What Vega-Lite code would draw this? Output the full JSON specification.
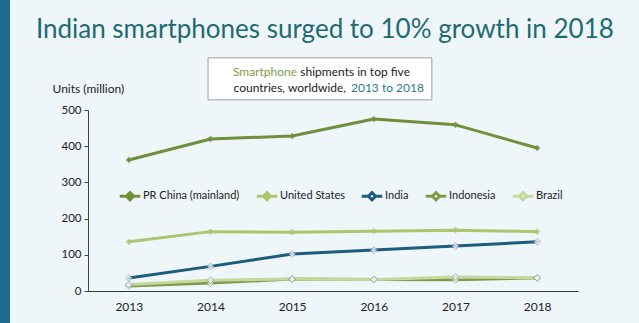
{
  "$schema": "https://vega.github.io/schema/vega-lite/v6.json",
  "width": 490,
  "height": 181,
  "autosize": "none",
  "padding": {"left": 88, "top": 110, "right": 61, "bottom": 32},
  "background": "#eef6f9",
  "config": {
    "view": {"stroke": null},
    "font": "Lato",
    "axisY": {
      "title": "Units (million)",
      "titleAngle": 0,
      "titleAlign": "left",
      "titleBaseline": "middle",
      "titleX": -36,
      "titleY": -22,
      "titleFontSize": 12,
      "titleFontWeight": "normal",
      "titleColor": "#222",
      "tickCount": 10,
      "labelOverlap": false,
      "labelBound": false,
      "labelSeparation": 0,
      "grid": false,
      "labelFontSize": 11.5,
      "labelColor": "#222",
      "tickSize": 4,
      "tickColor": "#444",
      "domainColor": "#444",
      "labelPadding": 3
    }
  },
  "layer": [
    {
      "data": {"name": "shipments", "values": [
        {"year": 2013, "country": "PR China (mainland)", "value": 362},
        {"year": 2014, "country": "PR China (mainland)", "value": 420},
        {"year": 2015, "country": "PR China (mainland)", "value": 428},
        {"year": 2016, "country": "PR China (mainland)", "value": 475},
        {"year": 2017, "country": "PR China (mainland)", "value": 459},
        {"year": 2018, "country": "PR China (mainland)", "value": 395},
        {"year": 2013, "country": "United States", "value": 136},
        {"year": 2014, "country": "United States", "value": 164},
        {"year": 2015, "country": "United States", "value": 162},
        {"year": 2016, "country": "United States", "value": 165},
        {"year": 2017, "country": "United States", "value": 168},
        {"year": 2018, "country": "United States", "value": 164},
        {"year": 2013, "country": "India", "value": 36},
        {"year": 2014, "country": "India", "value": 68},
        {"year": 2015, "country": "India", "value": 102},
        {"year": 2016, "country": "India", "value": 113},
        {"year": 2017, "country": "India", "value": 124},
        {"year": 2018, "country": "India", "value": 136},
        {"year": 2013, "country": "Indonesia", "value": 14},
        {"year": 2014, "country": "Indonesia", "value": 22},
        {"year": 2015, "country": "Indonesia", "value": 33},
        {"year": 2016, "country": "Indonesia", "value": 32},
        {"year": 2017, "country": "Indonesia", "value": 31},
        {"year": 2018, "country": "Indonesia", "value": 36},
        {"year": 2013, "country": "Brazil", "value": 18},
        {"year": 2014, "country": "Brazil", "value": 30},
        {"year": 2015, "country": "Brazil", "value": 33},
        {"year": 2016, "country": "Brazil", "value": 32},
        {"year": 2017, "country": "Brazil", "value": 39},
        {"year": 2018, "country": "Brazil", "value": 36}
      ]},
      "encoding": {
        "x": {
          "field": "year",
          "type": "quantitative",
          "scale": {"domain": [2012.5, 2018.5], "nice": false, "zero": false},
          "axis": {
            "title": null,
            "values": [2013, 2014, 2015, 2016, 2017, 2018],
            "format": "d",
            "ticks": false,
            "grid": false,
            "labelFontSize": 12,
            "labelColor": "#222",
            "labelPadding": 10,
            "domainColor": "#333",
            "domainWidth": 1.2
          }
        },
        "y": {
          "field": "value",
          "type": "quantitative",
          "scale": {"domain": [0, 500], "nice": false},
          "axis": {"title": "Units (million)", "values": [0, 50, 100, 150, 200, 250, 300, 350, 400, 450, 500], "labelOverlap": false, "tickCount": 10}
        }
      },
      "layer": [
        {
          "mark": {"type": "line", "strokeCap": "round", "strokeJoin": "round"},
          "encoding": {
            "stroke": {
              "field": "country",
              "type": "nominal",
              "sort": ["PR China (mainland)", "United States", "India", "Indonesia", "Brazil"],
              "scale": {
                "domain": ["PR China (mainland)", "United States", "India", "Indonesia", "Brazil"],
                "range": ["#6f8f3a", "#a9c76d", "#1b5d7e", "#7e9b48", "#c5d89d"]
              },
              "legend": {
                "title": null,
                "orient": "none",
                "legendX": 30,
                "legendY": 74,
                "direction": "horizontal",
                "columns": 5,
                "columnPadding": 10,
                "symbolType": "M-1,0L-0.35,0M0.35,0L1,0M0,-0.35L0.35,0L0,0.35L-0.35,0Z",
                "symbolSize": 420,
                "symbolStrokeWidth": 2.5,
                "symbolOffset": 0,
                "labelFontSize": 11,
                "labelColor": "#222",
                "labelOffset": 1,
                "encode": {
                  "symbols": {"update": {"fill": {"scale": "fill", "field": "value"}}}
                }
              }
            },
            "strokeWidth": {
              "field": "country",
              "type": "ordinal",
              "scale": {
                "domain": ["PR China (mainland)", "United States", "India", "Indonesia", "Brazil"],
                "range": [3, 3, 5, 2, 3]
              },
              "legend": null
            }
          }
        },
        {
          "mark": {"type": "point", "shape": "diamond", "filled": true, "size": 45, "stroke": "#8c9ca4", "strokeWidth": 1},
          "encoding": {
            "fill": {
              "field": "country",
              "type": "nominal",
              "scale": {
                "domain": ["PR China (mainland)", "United States", "India", "Indonesia", "Brazil"],
                "range": ["#6f8f3a", "#a9c76d", "#ffffff", "#ffffff", "#eef3e2"]
              },
              "legend": null
            },
            "strokeOpacity": {
              "condition": {"test": "datum.country === 'India' || datum.country === 'Indonesia' || datum.country === 'Brazil'", "value": 1},
              "value": 0
            }
          }
        }
      ]
    },
    {
      "data": {"values": [{}]},
      "mark": {"type": "rect", "clip": false, "color": "#1d6b8c"},
      "encoding": {
        "x": {"datum": 2011.42, "type": "quantitative"},
        "x2": {"datum": 2011.545},
        "y": {"datum": -90, "type": "quantitative", "axis": {"title": "Units (million)", "values": [0, 50, 100, 150, 200, 250, 300, 350, 400, 450, 500], "labelOverlap": false, "tickCount": 10}},
        "y2": {"datum": 810}
      }
    },
    {
      "data": {"values": [{}]},
      "mark": {"type": "text", "clip": false, "align": "center", "baseline": "middle", "fontSize": 26, "color": "#1f6a73"},
      "encoding": {"x": {"datum": 2015.4, "type": "quantitative"}, "y": {"datum": 721, "type": "quantitative", "axis": {"title": "Units (million)", "values": [0, 50, 100, 150, 200, 250, 300, 350, 400, 450, 500], "labelOverlap": false, "tickCount": 10}}, "text": {"value": "Indian smartphones surged to 10% growth in 2018"}}
    },
    {
      "data": {"values": [{}]},
      "mark": {"type": "rect", "clip": false, "fill": "#ffffff", "stroke": "#a0a0a0", "strokeWidth": 1},
      "encoding": {
        "x": {"datum": 2013.97, "type": "quantitative"},
        "x2": {"datum": 2016.71},
        "y": {"datum": 528, "type": "quantitative", "axis": {"title": "Units (million)", "values": [0, 50, 100, 150, 200, 250, 300, 350, 400, 450, 500], "labelOverlap": false, "tickCount": 10}},
        "y2": {"datum": 644}
      }
    },
    {
      "data": {"values": [{}]},
      "mark": {"type": "text", "clip": false, "align": "right", "baseline": "middle", "fontSize": 12, "color": "#7f9a4d"},
      "encoding": {"x": {"datum": 2015.06, "type": "quantitative"}, "y": {"datum": 605, "type": "quantitative", "axis": {"title": "Units (million)", "values": [0, 50, 100, 150, 200, 250, 300, 350, 400, 450, 500], "labelOverlap": false, "tickCount": 10}}, "text": {"value": "Smartphone"}}
    },
    {
      "data": {"values": [{}]},
      "mark": {"type": "text", "clip": false, "align": "left", "baseline": "middle", "fontSize": 12, "color": "#222"},
      "encoding": {"x": {"datum": 2015.1, "type": "quantitative"}, "y": {"datum": 605, "type": "quantitative", "axis": {"title": "Units (million)", "values": [0, 50, 100, 150, 200, 250, 300, 350, 400, 450, 500], "labelOverlap": false, "tickCount": 10}}, "text": {"value": "shipments in top five"}}
    },
    {
      "data": {"values": [{}]},
      "mark": {"type": "text", "clip": false, "align": "right", "baseline": "middle", "fontSize": 12, "color": "#222"},
      "encoding": {"x": {"datum": 2015.66, "type": "quantitative"}, "y": {"datum": 561, "type": "quantitative", "axis": {"title": "Units (million)", "values": [0, 50, 100, 150, 200, 250, 300, 350, 400, 450, 500], "labelOverlap": false, "tickCount": 10}}, "text": {"value": "countries, worldwide,"}}
    },
    {
      "data": {"values": [{}]},
      "mark": {"type": "text", "clip": false, "align": "left", "baseline": "middle", "fontSize": 12, "color": "#2a7a86"},
      "encoding": {"x": {"datum": 2015.72, "type": "quantitative"}, "y": {"datum": 561, "type": "quantitative", "axis": {"title": "Units (million)", "values": [0, 50, 100, 150, 200, 250, 300, 350, 400, 450, 500], "labelOverlap": false, "tickCount": 10}}, "text": {"value": "2013 to 2018"}}
    }
  ]
}
